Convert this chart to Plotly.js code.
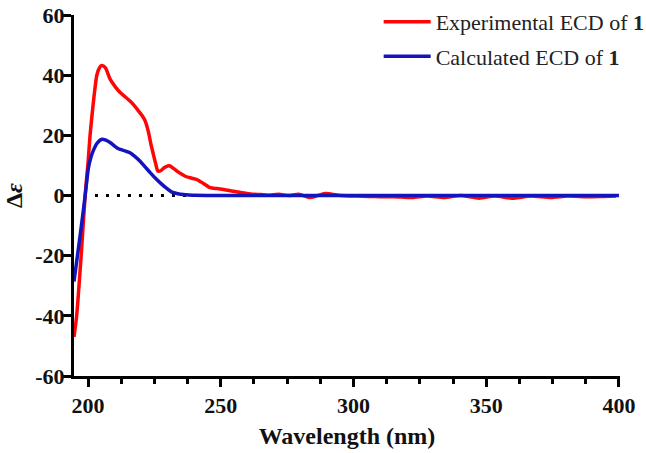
<!DOCTYPE html>
<html><head><meta charset="utf-8">
<script src="https://cdn.plot.ly/plotly-3.0.1.min.js"></script>
<style>html,body{margin:0;padding:0;background:#fff}#chart{width:646px;height:453px}</style>
</head><body><div id="chart"></div>
<script>
// Experimental ECD of 1
const wavelengthExp = [194.7,195.7,197.4,198.9,200.0,200.75,202.0,203.3,204.3,205.2,206.5,208.3,210.2,212.1,214.0,215.8,217.5,219.0,220.4,221.5,222.8,223.7,224.6,225.5,226.3,227.5,228.8,230.0,230.9,232.2,233.5,235.0,236.6,238.8,241.0,243.5,246.0,248.5,251.1,254.8,257.4,259.9,262.4,264.9,268.5,271.8,275.6,279.4,283.8,289.4,295.1,301.4,305.8,310.2,315.2,322.1,327.8,334.1,340.4,347.3,353.0,360.5,366.8,374.3,380.6,388.2,394.0,398.9];
const deltaExp = [-47.0,-40.0,-20.0,0.0,11.0,20.0,31.0,40.0,42.5,43.2,42.5,38.7,36.2,34.2,32.8,31.4,29.8,28.1,26.5,24.8,20.9,17.0,13.7,10.5,8.1,8.3,9.3,9.8,9.8,9.0,8.1,7.2,6.4,5.8,5.3,4.0,2.6,2.3,2.0,1.4,1.0,0.7,0.4,0.3,0.1,0.4,0.0,0.4,-0.7,0.7,0.0,-0.2,-0.3,-0.4,-0.4,-0.7,-0.2,-0.7,0.0,-0.9,-0.2,-0.9,-0.2,-0.7,-0.2,-0.4,-0.3,-0.2];
// Calculated ECD of 1
const wavelengthCalc = [194.7,196.0,197.5,198.9,200.1,201.0,202.0,203.5,205.2,206.7,208.3,210.8,212.1,214.0,215.8,217.6,219.6,221.5,223.4,225.3,227.2,229.4,231.6,233.8,236.0,238.0,240.0,245.0,250.0,270.0,300.0,330.0,360.0,400.0];
const deltaCalc = [-28.6,-20.0,-10.0,0.0,9.0,12.5,15.0,17.5,18.7,18.4,17.6,15.9,15.3,14.8,14.2,13.0,11.4,9.5,7.6,5.8,4.2,2.5,1.1,0.6,0.3,0.15,0.05,0.0,0.0,0.0,0.0,0.0,0.0,0.0];
const xTickVals = [200,250,300,350,400];
const xTickText = ["200","250","300","350","400"];
const yTickVals = [-60,-40,-20,0,20,40,60];
const yTickText = ["-60","-40","-20","0","20","40","60"];
const seriesNames = ["Experimental ECD of <b>1</b>","Calculated ECD of <b>1</b>"];

const serif = "'Liberation Serif','Times New Roman',serif";
const traces = [
  {x: wavelengthExp, y: deltaExp, type:'scatter', mode:'lines', name: seriesNames[0], legendgroup:'a',
   line:{color:'#ff0505', width:3.5, shape:'spline', smoothing:0.6}},
  {x: wavelengthCalc, y: deltaCalc, type:'scatter', mode:'lines', name: seriesNames[1], legendgroup:'b',
   line:{color:'#1414bf', width:3.5, shape:'spline', smoothing:0.6}}
];
const layout = {
  width:646, height:453,
  margin:{l:74, r:26, t:15, b:77, autoexpand:false},
  paper_bgcolor:'#fff', plot_bgcolor:'#fff',
  showlegend:true,
  legend:{x:0.558, y:1.039, xanchor:'left', yanchor:'top', bgcolor:'rgba(0,0,0,0)', itemwidth:47,
          font:{family:serif, size:22, color:'#222'}, tracegroupgap:3, traceorder:'grouped'},
  xaxis:{range:[194.7,400.4], showgrid:false, zeroline:false, showline:true, linecolor:'#000', linewidth:3,
         ticks:'outside', ticklen:8, tickwidth:3, tickcolor:'#000',
         tickvals:xTickVals, ticktext:xTickText,
         minor:{dtick:12.5, tick0:200, ticks:'outside', ticklen:5, tickwidth:3, tickcolor:'#000', showgrid:false},
         tickfont:{family:serif, size:22, weight:'bold', color:'#111'},
         title:{text:'Wavelength (nm)', font:{family:serif, size:24, weight:'bold', color:'#111'}, standoff:10}},
  yaxis:{range:[-60,60], showgrid:false, zeroline:false, showline:true, linecolor:'#000', linewidth:3,
         ticks:'outside', ticklen:8, tickwidth:3, tickcolor:'#000', ticklabelstandoff:-6,
         tickvals:yTickVals, ticktext:yTickText,
         tickfont:{family:serif, size:22, weight:'bold', color:'#111'},
         title:{text:'Δ<i>ε</i>', font:{family:serif, size:24, weight:'bold', color:'#111'}, standoff:6}},
  shapes:[{type:'line', xref:'x', yref:'y', x0:202.6, x1:400, y0:0, y1:0, layer:'below',
           line:{color:'#000', width:3, dash:'3px,8px'}}]
};
Plotly.newPlot('chart', traces, layout, {displayModeBar:false, staticPlot:true});
</script></body></html>
